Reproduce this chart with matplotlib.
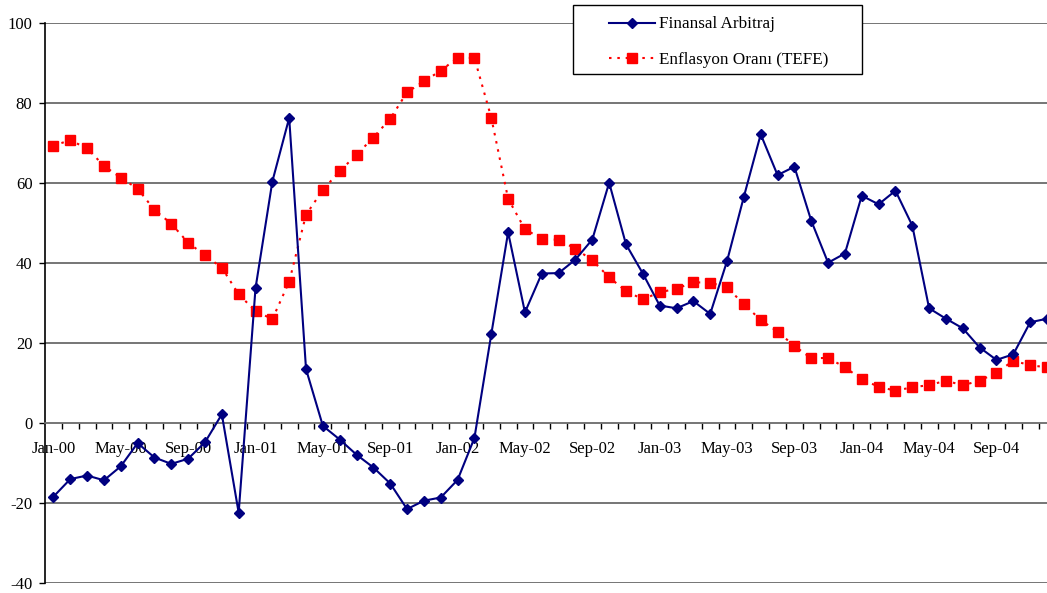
import matplotlib
matplotlib.use("Agg")
import matplotlib.pyplot as plt
from matplotlib.patches import Rectangle
from matplotlib.lines import Line2D

months = [f"{m}-{y:02d}" for y in range(0, 5) for m in
          ["Jan", "Feb", "Mar", "Apr", "May", "Jun", "Jul", "Aug", "Sep", "Oct", "Nov", "Dec"]]

finansal_arbitraj = [
    -18.5, -14.1, -13.2, -14.4, -10.9, -5.1, -8.7, -10.3, -9.0, -4.9, 2.1, -22.5,
    33.6, 60.3, 76.2, 13.4, -0.8, -4.2, -8.0, -11.2, -15.2, -21.6, -19.5, -18.7,
    -14.3, -3.8, 22.1, 47.6, 27.6, 37.3, 37.4, 40.8, 45.8, 60.0, 44.6, 37.3,
    29.3, 28.6, 30.4, 27.2, 40.4, 56.5, 72.1, 61.9, 64.0, 50.5, 40.0, 42.3,
    56.75, 54.6, 58.0, 49.3, 28.6, 26.0, 23.6, 18.8, 15.7, 17.1, 25.1, 26.0,
]

enflasyon_tefe = [
    69.3, 70.6, 68.6, 64.2, 61.25, 58.5, 53.2, 49.75, 45.0, 41.85, 38.75, 32.1,
    27.9, 25.9, 35.25, 52.0, 58.2, 62.9, 67.0, 71.3, 76.0, 82.6, 85.35, 88.0,
    91.25, 91.2, 76.25, 56.0, 48.35, 46.0, 45.7, 43.5, 40.6, 36.35, 32.9, 30.85,
    32.6, 33.5, 35.1, 35.0, 33.85, 29.6, 25.7, 22.75, 19.2, 16.1, 16.2, 13.85,
    10.85, 9.0, 8.0, 8.85, 9.4, 10.5, 9.35, 10.5, 12.5, 15.5, 14.35, 13.85,
]

series_names = ["Finansal Arbitraj", "Enflasyon Oranı (TEFE)"]
y_ticks = [-40, -20, 0, 20, 40, 60, 80, 100]

plt.rcParams["font.family"] = ["Liberation Serif", "DejaVu Serif"]

W, H = 1047, 593
fig = plt.figure(figsize=(W / 100, H / 100), dpi=100)
ax = fig.add_axes([45 / W, 1 - 582.7 / H, (1047 - 45) / W, (582.7 - 22.7) / H])

x = list(range(len(months)))
ax.set_xlim(-0.5, 59.0)
ax.set_ylim(-40, 100)

grid_c = "#6a6a6a"
for yv in y_ticks:
    if yv != 0:
        ax.axhline(yv, color=grid_c, lw=1.3, zorder=1)

blue_kw = dict(color="#000080", lw=1.5, marker="D", ms=5.2,
               markeredgecolor="#000080", markerfacecolor="#000080")
red_kw = dict(color="#ff0000", lw=1.5, linestyle=(0, (1.2, 2.8)),
              marker="s", ms=7.2, markeredgecolor="#ff0000",
              markerfacecolor="#ff0000")

ax.plot(x, finansal_arbitraj, zorder=4, label=series_names[0], **blue_kw)
ax.plot(x, enflasyon_tefe, zorder=3, label=series_names[1], **red_kw)

for s in ["top", "right"]:
    ax.spines[s].set_visible(False)
ax.spines["left"].set_color("black")
ax.spines["left"].set_linewidth(1.2)
ax.spines["bottom"].set_position(("data", 0))
ax.spines["bottom"].set_color(grid_c)
ax.spines["bottom"].set_linewidth(1.3)

ax.set_yticks(y_ticks)
ax.set_yticklabels([str(v) for v in y_ticks], fontsize=12)
ax.tick_params(axis="y", direction="out", length=4, width=1, pad=5)

ax.set_xticks(x[::4])
ax.set_xticklabels(months[::4], fontsize=12)
ax.set_xticks([i + 0.5 for i in range(len(months) - 1)], minor=True)
ax.tick_params(axis="x", which="major", length=0, pad=13)
ax.tick_params(axis="x", which="minor", direction="out", length=4, width=1,
               color="black")

# legend box
fig.patches.append(Rectangle((573 / W, 1 - 74 / H), (862 - 573) / W, (74 - 5) / H,
                             transform=fig.transFigure, facecolor="white",
                             edgecolor="black", lw=1.0, zorder=5))
handles = [Line2D([], [], **blue_kw), Line2D([], [], **red_kw)]
leg = fig.legend(handles, series_names, loc="upper left",
                 bbox_to_anchor=(609 / W, 1 - 16.5 / H), frameon=False,
                 fontsize=12.3, handlelength=2.7, handletextpad=0.25,
                 labelspacing=1.12, borderpad=0, borderaxespad=0, numpoints=1)
leg.set_zorder(6)

fig.savefig("out.png", dpi=100)
